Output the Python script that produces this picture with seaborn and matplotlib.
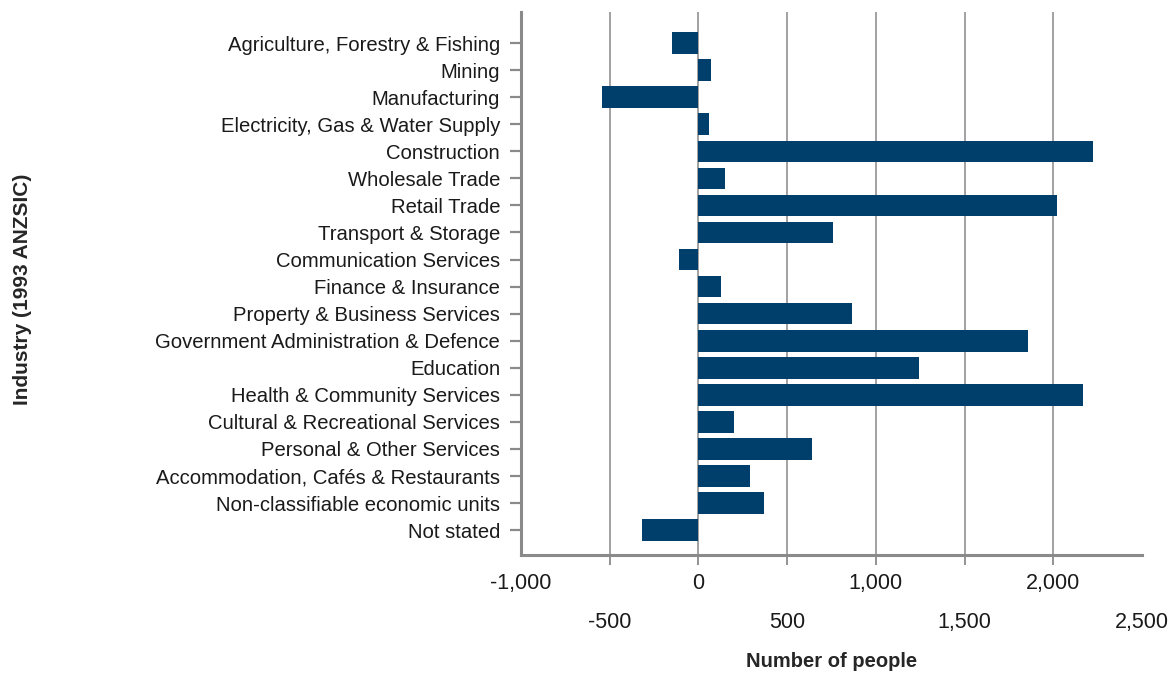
import matplotlib
matplotlib.use("Agg")
import matplotlib.pyplot as plt
import seaborn as sns
import pandas as pd

# Data
industries = ['Agriculture, Forestry & Fishing', 'Mining', 'Manufacturing',
              'Electricity, Gas & Water Supply', 'Construction', 'Wholesale Trade',
              'Retail Trade', 'Transport & Storage', 'Communication Services',
              'Finance & Insurance', 'Property & Business Services',
              'Government Administration & Defence', 'Education',
              'Health & Community Services', 'Cultural & Recreational Services',
              'Personal & Other Services', 'Accommodation, Cafés & Restaurants',
              'Non-classifiable economic units', 'Not stated']
change = [-148, 70, -546, 58, 2225, 148, 2022, 758, -108, 127, 864, 1855, 1242,
          2165, 202, 640, 292, 370, -316]
x_ticks = [-1000, -500, 0, 500, 1000, 1500, 2000, 2500]
x_tick_labels = ['-1,000', '-500', '0', '500', '1,000', '1,500', '2,000', '2,500']

df = pd.DataFrame({'Industry': industries, 'Change': change})

sns.set_style("white")
plt.rcParams['font.family'] = ['Liberation Sans', 'DejaVu Sans']

fig = plt.figure(figsize=(11.75, 6.77), dpi=100)
ax = fig.add_axes([0.4434, 0.1802, 0.5285, 0.8021])

sns.barplot(data=df, x='Change', y='Industry', orient='h', color='#003f6b',
            saturation=1, width=0.8, linewidth=0, ax=ax, zorder=3)

grey = '#8a8a8a'
ax.set_xlim(-1000, 2500)
ax.set_ylim(18.92, -1.15)
ax.set_xticks(x_ticks)
ax.set_xticklabels(x_tick_labels)
for x in x_ticks[1:-1]:
    ax.axvline(x, color='#9a9a9a', lw=1.3, zorder=1)

for s in ['top', 'right']:
    ax.spines[s].set_visible(False)
for s in ['left', 'bottom']:
    ax.spines[s].set_color(grey)
    ax.spines[s].set_linewidth(2.2)

ax.tick_params(axis='y', length=8, width=1.6, color=grey, pad=7,
               labelsize=14.6, labelcolor='#1a1a1a', left=True)
ax.tick_params(axis='x', length=7, width=1.3, color=grey, pad=6,
               labelsize=15.5, labelcolor='#1a1a1a', bottom=True)

xt = ax.xaxis.get_major_ticks()
xt[0].tick1line.set_visible(False)
xt[-1].tick1line.set_visible(False)
for t in xt[1::2]:
    t.set_pad(34)

ax.set_xlabel('Number of people', fontsize=14.5, fontweight='bold', labelpad=14)
ax.set_ylabel('Industry (1993 ANZSIC)', fontsize=15, fontweight='bold')
ax.yaxis.set_label_coords(-0.787, 0.49)

fig.savefig('out.png', dpi=100)
